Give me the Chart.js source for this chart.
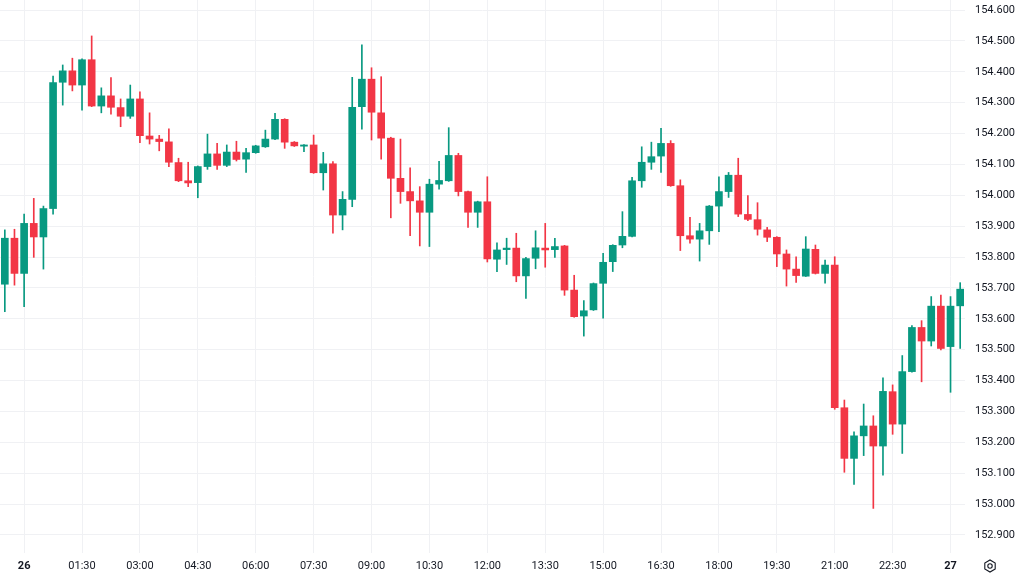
<!DOCTYPE html>
<html><head><meta charset="utf-8">
<script src="https://cdn.jsdelivr.net/npm/chart.js@4"></script>
<style>html,body{margin:0;padding:0;background:#fff;}canvas{display:block;}</style>
</head><body>
<canvas id="c" width="1024" height="576"></canvas>
<script>
const opens = [153.712,153.861,153.747,153.909,153.865,153.957,154.366,154.403,154.357,154.439,
154.289,154.322,154.284,154.256,154.312,154.192,154.182,154.173,154.106,154.047,
154.041,154.093,154.134,154.097,154.140,154.117,154.138,154.157,154.182,154.246,
154.172,154.159,154.163,154.073,154.102,153.936,153.987,154.287,154.376,154.267,
154.185,154.055,154.012,153.982,153.945,154.036,154.047,154.129,154.012,153.945,
153.979,153.793,153.824,153.829,153.739,153.796,153.829,153.824,153.836,153.693,
153.609,153.629,153.715,153.785,153.839,153.867,154.047,154.107,154.127,154.168,
154.031,153.869,153.858,153.885,153.965,154.012,154.065,153.938,153.921,153.888,
153.864,153.810,153.761,153.738,153.825,153.747,153.774,153.312,153.148,153.221,
153.253,153.188,153.364,153.259,153.429,153.572,153.528,153.641,153.510,153.642];
const highs = [153.888,153.890,153.939,153.990,153.965,154.386,154.422,154.444,154.442,154.516,
154.348,154.381,154.312,154.357,154.335,154.267,154.194,154.215,154.120,154.107,
154.095,154.198,154.168,154.163,154.175,154.152,154.162,154.211,154.265,154.248,
154.174,154.164,154.195,154.139,154.109,154.012,154.382,154.487,154.413,154.384,
154.188,154.182,154.089,154.028,154.052,154.110,154.219,154.136,154.014,153.981,
154.060,153.846,153.861,153.877,153.799,153.885,153.909,153.861,153.838,153.741,
153.659,153.716,153.812,153.840,153.947,154.058,154.157,154.172,154.217,154.177,
154.050,153.929,153.909,153.967,154.060,154.074,154.120,153.999,153.976,153.896,
153.866,153.823,153.801,153.866,153.839,153.790,153.801,153.337,153.234,153.324,
153.286,153.409,153.386,153.481,153.578,153.594,153.672,153.677,153.672,153.717];
const lows = [153.623,153.709,153.639,153.799,153.761,153.939,154.292,154.338,154.276,154.287,
154.267,154.263,154.222,154.249,154.170,154.166,154.144,154.093,154.044,154.028,
153.992,154.084,154.084,154.093,154.111,154.074,154.136,154.155,154.180,154.152,
154.158,154.141,154.071,154.017,153.877,153.888,153.963,154.214,154.179,154.117,
153.927,153.974,153.869,153.836,153.834,154.020,154.045,153.998,153.896,153.896,
153.784,153.753,153.776,153.720,153.666,153.762,153.767,153.799,153.676,153.605,
153.544,153.627,153.602,153.753,153.830,153.865,154.026,154.084,154.074,154.029,
153.821,153.845,153.787,153.841,153.882,153.993,153.931,153.918,153.871,153.850,
153.769,153.706,153.718,153.737,153.745,153.715,153.307,153.103,153.064,153.157,
152.986,153.094,153.226,153.164,153.427,153.396,153.512,153.499,153.362,153.504];
const closes = [153.861,153.747,153.909,153.865,153.957,154.365,154.403,154.357,154.439,154.289,
154.322,154.285,154.256,154.312,154.193,154.182,154.174,154.107,154.047,154.040,
154.093,154.134,154.097,154.140,154.116,154.138,154.160,154.182,154.246,154.172,
154.160,154.163,154.073,154.102,153.936,153.987,154.285,154.376,154.269,154.185,
154.055,154.012,153.982,153.945,154.036,154.048,154.129,154.012,153.945,153.979,
153.794,153.823,153.829,153.739,153.795,153.830,153.823,153.834,153.693,153.607,
153.626,153.714,153.783,153.838,153.867,154.047,154.107,154.125,154.168,154.031,
153.869,153.858,153.885,153.965,154.012,154.065,153.939,153.922,153.890,153.864,
153.810,153.761,153.740,153.826,153.747,153.774,153.312,153.148,153.221,153.253,
153.188,153.365,153.259,153.429,153.572,153.528,153.641,153.504,153.641,153.696];

const tickCategories = ['26 00:00','26 01:30','26 03:00','26 04:30','26 06:00','26 07:30','26 09:00','26 10:30',
  '26 12:00','26 13:30','26 15:00','26 16:30','26 18:00','26 19:30','26 21:00','26 22:30','27 00:00'];
const tickLabels = ['26','01:30','03:00','04:30','06:00','07:30','09:00','10:30',
  '12:00','13:30','15:00','16:30','18:00','19:30','21:00','22:30','27'];
const boldTickLabels = ['26','27'];
const yTicks = [152.9,153.0,153.1,153.2,153.3,153.4,153.5,153.6,153.7,153.8,153.9,154.0,154.1,154.2,154.3,154.4,154.5,154.6];

// 15-minute category labels, starting 25th 23:30
const categories = [];
(function(){ let d = 25, m = 23*60+30;
  for (let i = 0; i < opens.length; i++) {
    categories.push(d + ' ' + String(Math.floor(m/60)).padStart(2,'0') + ':' + String(m%60).padStart(2,'0'));
    m += 15; if (m >= 1440) { m -= 1440; d++; }
  }
})();

const UP = '#089981', DOWN = '#f23645';
const candleColors = opens.map((o,i) => closes[i] >= o ? UP : DOWN);
const GRID = '#f0f1f4';
const TEXT = '#131722';

const gearPlugin = {
  id: 'gear',
  afterDraw(chart) {
    const ctx = chart.ctx;
    const cx = 990, cy = 566, r = 6;
    ctx.save();
    ctx.strokeStyle = '#131722';
    ctx.lineWidth = 1.1;
    ctx.beginPath();
    for (let k = 0; k < 6; k++) {
      const a = Math.PI/6 + k*Math.PI/3;
      const px = cx + r*Math.cos(a), py = cy + r*Math.sin(a);
      if (k === 0) ctx.moveTo(px, py); else ctx.lineTo(px, py);
    }
    ctx.closePath(); ctx.stroke();
    ctx.beginPath(); ctx.arc(cx, cy, 2.2, 0, Math.PI*2); ctx.stroke();
    ctx.restore();
  }
};

function noPad(s) { s.paddingTop = 0; s.paddingBottom = 0; s.paddingLeft = 0; s.paddingRight = 0; }

new Chart(document.getElementById('c'), {
  type: 'bar',
  data: {
    labels: categories,
    datasets: [
      {
        label: 'wick',
        data: lows.map((l,i) => [l, highs[i]]),
        backgroundColor: candleColors,
        barThickness: 1,
        grouped: false,
        order: 2
      },
      {
        label: 'body',
        data: opens.map((o,i) => [o, closes[i]]),
        backgroundColor: candleColors,
        barThickness: 7,
        minBarLength: 1,
        grouped: false,
        order: 1
      }
    ]
  },
  options: {
    responsive: false,
    animation: false,
    devicePixelRatio: 1,
    layout: { padding: 0 },
    plugins: { legend: { display: false }, tooltip: { enabled: false } },
    scales: {
      x: {
        type: 'category',
        offset: true,
        border: { display: false },
        grid: {
          offset: false,
          drawTicks: false,
          color: GRID,
          lineWidth: 1
        },
        afterBuildTicks: s => { s.ticks = tickCategories.map(c => ({ value: categories.indexOf(c) })); },
        afterFit: s => { s.height = 23; noPad(s); },
        ticks: {
          autoSkip: false,
          maxRotation: 0,
          padding: 7,
          color: TEXT,
          font: ctx => ({ family: 'Roboto, "Liberation Sans", sans-serif', size: 11,
            weight: (ctx.tick && boldTickLabels.includes(ctx.tick.label)) ? 'bold' : 'normal' }),
          callback: (v) => tickLabels[tickCategories.indexOf(categories[v])]
        }
      },
      y: {
        position: 'right',
        min: 152.8416,
        max: 154.6324,
        border: { display: false },
        grid: { drawTicks: false, color: GRID, lineWidth: 1 },
        afterBuildTicks: s => { s.ticks = yTicks.map(v => ({ value: v })); },
        afterFit: s => { s.width = 59; noPad(s); },
        ticks: {
          padding: 10,
          color: TEXT,
          font: { family: 'Roboto, "Liberation Sans", sans-serif', size: 11 },
          callback: v => Number(v).toFixed(3)
        }
      }
    }
  },
  plugins: [gearPlugin]
});
</script>
</body></html>
